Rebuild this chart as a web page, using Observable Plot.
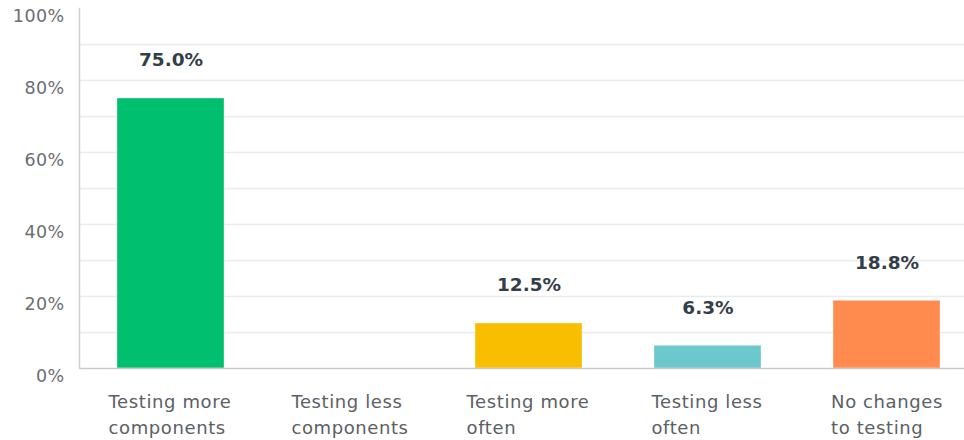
<!DOCTYPE html>
<html>
<head>
<meta charset="utf-8">
<script src="https://cdn.jsdelivr.net/npm/d3@7"></script>
<script src="https://cdn.jsdelivr.net/npm/@observablehq/plot@0.6"></script>
<style>
  html, body { margin: 0; padding: 0; background: #fff; }
  #chart { width: 964px; height: 440px; overflow: hidden; }
  .xlab text { letter-spacing: 0.6px; }
  .ylab text { letter-spacing: 0.4px; }
</style>
</head>
<body>
<div id="chart"></div>
<script>
const categories = ["Testing more\ncomponents", "Testing less\ncomponents", "Testing more\noften", "Testing less\noften", "No changes\nto testing"];
const values = [75.0, 0, 12.5, 6.3, 18.8];
const colors = ["#00bf6f", "#5a6ee0", "#f9be00", "#6bc8cd", "#ff8b4f"];
const yTicks = [0, 20, 40, 60, 80, 100];
const gridTicks = [10, 20, 30, 40, 50, 60, 70, 80, 90];

const data = categories.map((c, i) => ({cat: c, value: values[i], color: colors[i]}));
const font = "'DejaVu Sans', sans-serif";

const plot = Plot.plot({
  width: 964,
  height: 440,
  marginLeft: 80,
  marginRight: 0,
  marginTop: 8,
  marginBottom: 72,
  style: {fontFamily: font, background: "#fff"},
  x: {domain: categories, range: [80, 978], paddingInner: 0.4, paddingOuter: 0.2, axis: null},
  y: {domain: [0, 100], axis: null},
  marks: [
    Plot.ruleY(gridTicks, {stroke: "#ebebeb", strokeWidth: 1.5}),
    Plot.barY(data, {x: "cat", y: "value", fill: "color", stroke: "#ffffff", strokeOpacity: 0.35, strokeWidth: 1}),
    Plot.ruleY([0], {stroke: "#c9c9c9", strokeWidth: 1.5}),
    Plot.frame({anchor: "left", stroke: "#d0d0d0", strokeWidth: 1.5, dx: -1}),
    Plot.text(yTicks, {y: d => d, text: d => d + "%", frameAnchor: "left", textAnchor: "end", dx: -16, dy: 8, fontSize: 17.5, fill: "#6b6e72", className: "ylab"}),
    Plot.text(data.filter(d => d.value > 0), {x: "cat", y: "value", text: d => d.value.toFixed(1) + "%", dy: -38, fontSize: 18.5, fontWeight: "bold", fill: "#333e48"}),
    Plot.text(data, {x: "cat", text: "cat", frameAnchor: "bottom", dy: 65, lineHeight: 1.42, fontSize: 18, fill: "#5b6065", className: "xlab"})
  ]
});
document.getElementById("chart").appendChild(plot);
// center label blocks, left-align lines within each block
plot.querySelectorAll(".xlab text").forEach(t => {
  const bb = t.getBBox();
  t.setAttribute("text-anchor", "start");
  const tr = t.getAttribute("transform") || "";
  t.setAttribute("transform", tr + ` translate(${bb.x},0)`);
});
</script>
</body>
</html>
